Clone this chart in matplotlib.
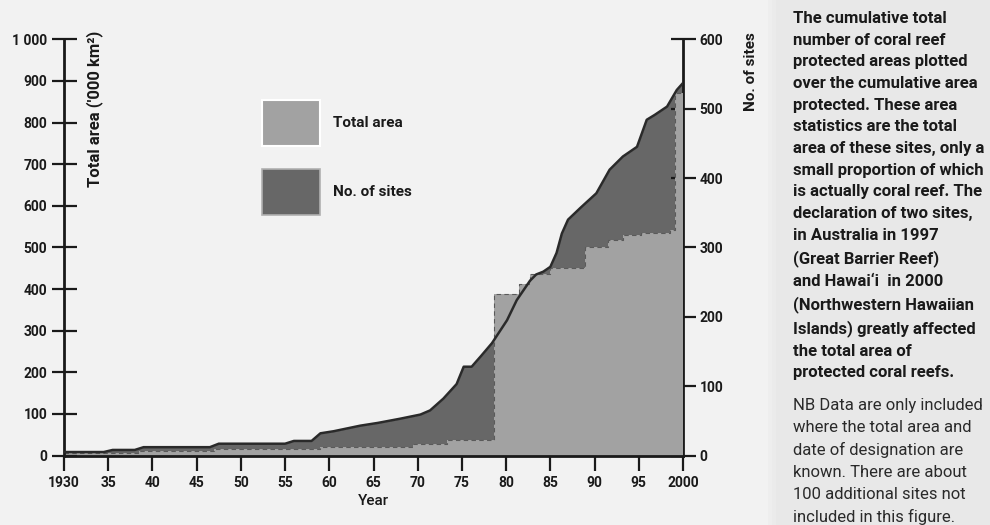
import matplotlib
matplotlib.use("Agg")
import matplotlib.pyplot as plt
from matplotlib.patches import Patch, Rectangle

plt.rcParams['font.family'] = ['Roboto', 'DejaVu Sans']

# ---- data ----
site_years = [1930, 1934.5, 1935.5, 1938, 1939, 1946.5, 1947.5, 1955, 1956, 1958, 1959,
              1960.5, 1963.5, 1965.5, 1968, 1970.3, 1971.4, 1972.9, 1974.4, 1975.2, 1976.1,
              1977.2, 1978.4, 1980.1, 1981.2, 1982.7, 1983.4, 1984.2, 1985.0, 1985.7, 1986.3,
              1987.0, 1988.4, 1990.2, 1991.7, 1993.2, 1994.8, 1995.9, 1996.8, 1998.2, 1999.3, 2000]
sites = [5, 5, 8, 8, 12, 12, 17, 17, 21, 21, 32,
         35, 43, 47, 53, 59, 65, 82, 103, 128, 128,
         144, 162, 195, 224, 252, 261, 265, 272, 292, 320,
         340, 357, 378, 412, 431, 445, 484, 491, 503, 527, 537]

area_years = [1930, 1938.5, 1947, 1959, 1969.5, 1973.3, 1978.6, 1981.5, 1982.7, 1985,
              1988.9, 1991.5, 1993.2, 1995.3, 1998.5, 1999.1, 2000]
area = [6, 10, 15, 20, 27, 37, 387, 413, 437, 450,
        502, 517, 529, 535, 541, 872, 872]

x_ticks = [1930, 1935, 1940, 1945, 1950, 1955, 1960, 1965, 1970, 1975, 1980, 1985, 1990, 1995, 2000]
x_labels = ['1930', '35', '40', '45', '50', '55', '60', '65', '70', '75', '80', '85', '90', '95', '2000']
left_ticks = [0, 100, 200, 300, 400, 500, 600, 700, 800, 900, 1000]
left_labels = ['0', '100', '200', '300', '400', '500', '600', '700', '800', '900', '1 000']
right_ticks = [0, 100, 200, 300, 400, 500, 600]

note_bold = ("The cumulative total\nnumber of coral reef\nprotected areas plotted\n"
             "over the cumulative area\nprotected. These area\nstatistics are the total\n"
             "area of these sites, only a\nsmall proportion of which\nis actually coral reef. The\n"
             "declaration of two sites,\nin Australia in 1997\n(Great Barrier Reef)\n"
             "and Hawai\u2018i  in 2000\n(Northwestern Hawaiian\nIslands) greatly affected\n"
             "the total area of\nprotected coral reefs.")
note_regular = ("NB Data are only included\nwhere the total area and\ndate of designation are\n"
                "known. There are about\n100 additional sites not\nincluded in this figure.")

LIGHT = '#a2a2a2'
DARK = '#676767'
INK = '#1a1a1a'

W, H = 990, 525
fig = plt.figure(figsize=(W / 100, H / 100), dpi=100, facecolor='#f2f2f2')

# right-hand text panel background (soft edge)
for i, c in enumerate(['#eeeeee', '#ebebeb', '#e8e8e8']):
    x0 = (768 + 4 * i) / W
    fig.patches.append(Rectangle((x0, 0), 1 - x0, 1, transform=fig.transFigure,
                                 facecolor=c, edgecolor='none', zorder=0))

ax_l, ax_r = 64 / W, 683 / W
ax_b, ax_t = (H - 455.5) / H, (H - 39.3) / H
ax = fig.add_axes([ax_l, ax_b, ax_r - ax_l, ax_t - ax_b])
ax2 = ax.twinx()   # sites fill
ax3 = ax.twinx()   # sites outline on top

ax.set_zorder(2)
ax.patch.set_visible(False)
ax2.set_zorder(1)
ax3.set_zorder(3)

# sites (dark)
ax2.fill_between(site_years, 0, sites, color=DARK, linewidth=0)
ax3.plot(site_years, sites, color='#2a2a2a', linewidth=1.8, solid_joinstyle='round')

# total area (light, steps)
ax.fill_between(area_years, 0, area, step='post', color=LIGHT, linewidth=0)
ax.step(area_years, area, where='post', color='#5a5a5a', linewidth=0.8,
        linestyle=(0, (4, 3)))

for a in (ax, ax2, ax3):
    a.set_xlim(1930, 2000)
ax.set_ylim(0, 1000)
ax2.set_ylim(0, 600)
ax3.set_ylim(0, 600)
ax3.axis('off')

# spines
for a in (ax, ax2):
    a.spines['top'].set_visible(False)
ax.spines['right'].set_visible(False)
ax2.spines['left'].set_visible(False)
ax2.spines['bottom'].set_visible(False)
for s in ('left', 'bottom'):
    ax.spines[s].set_linewidth(2)
    ax.spines[s].set_color(INK)
ax2.spines['right'].set_linewidth(2)
ax2.spines['right'].set_color(INK)

tick_font = dict(fontsize=10, fontweight='bold', color=INK)
ax.set_xticks(x_ticks)
ax.set_xticklabels(x_labels, **tick_font)
ax.set_yticks(left_ticks)
ax.set_yticklabels(left_labels, **tick_font)
ax2.set_yticks(right_ticks)
ax2.set_yticklabels([str(v) for v in right_ticks], **tick_font)

ax.tick_params(axis='y', direction='inout', length=18, width=1.6, color=INK, pad=3)
ax2.tick_params(axis='y', direction='inout', length=18, width=1.6, color=INK, pad=3)
ax.tick_params(axis='x', direction='out', length=11, width=1.6, color=INK, pad=3.5)

ax.set_xlabel('Year', fontsize=11, fontweight='medium', color=INK, labelpad=3)

ax.text(0.05, 1.02, "Total area ('000 km\u00b2)", transform=ax.transAxes, rotation=90,
        ha='center', va='top', fontsize=12, fontweight='bold', color=INK)
fig.text(751 / W, (H - 32) / H, 'No. of sites', rotation=90, ha='center', va='top',
         fontsize=11, fontweight='bold', color=INK)

# legend
handles = [Patch(facecolor=LIGHT, edgecolor='white', linewidth=1.5, label='Total area'),
           Patch(facecolor=DARK, edgecolor='#b0b0b0', linewidth=1.2, label='No. of sites')]
ax.legend(handles=handles, loc='upper left', bbox_to_anchor=(262 / W, (H - 100) / H),
          bbox_transform=fig.transFigure, frameon=False, handlelength=3.8, handleheight=4.3,
          labelspacing=1.45, handletextpad=0.85, borderpad=0, borderaxespad=0,
          prop=dict(size=11, weight='bold'), labelcolor=INK)

# notes
fig.text(793 / W, (H - 11) / H, note_bold, ha='left', va='top', fontsize=12,
         fontweight='bold', color=INK, linespacing=1.555)
fig.text(793 / W, (H - 398) / H, note_regular, ha='left', va='top', fontsize=12,
         fontweight='normal', color='#2a2a2a', linespacing=1.57)

fig.savefig('out.png', dpi=100, facecolor=fig.get_facecolor())
